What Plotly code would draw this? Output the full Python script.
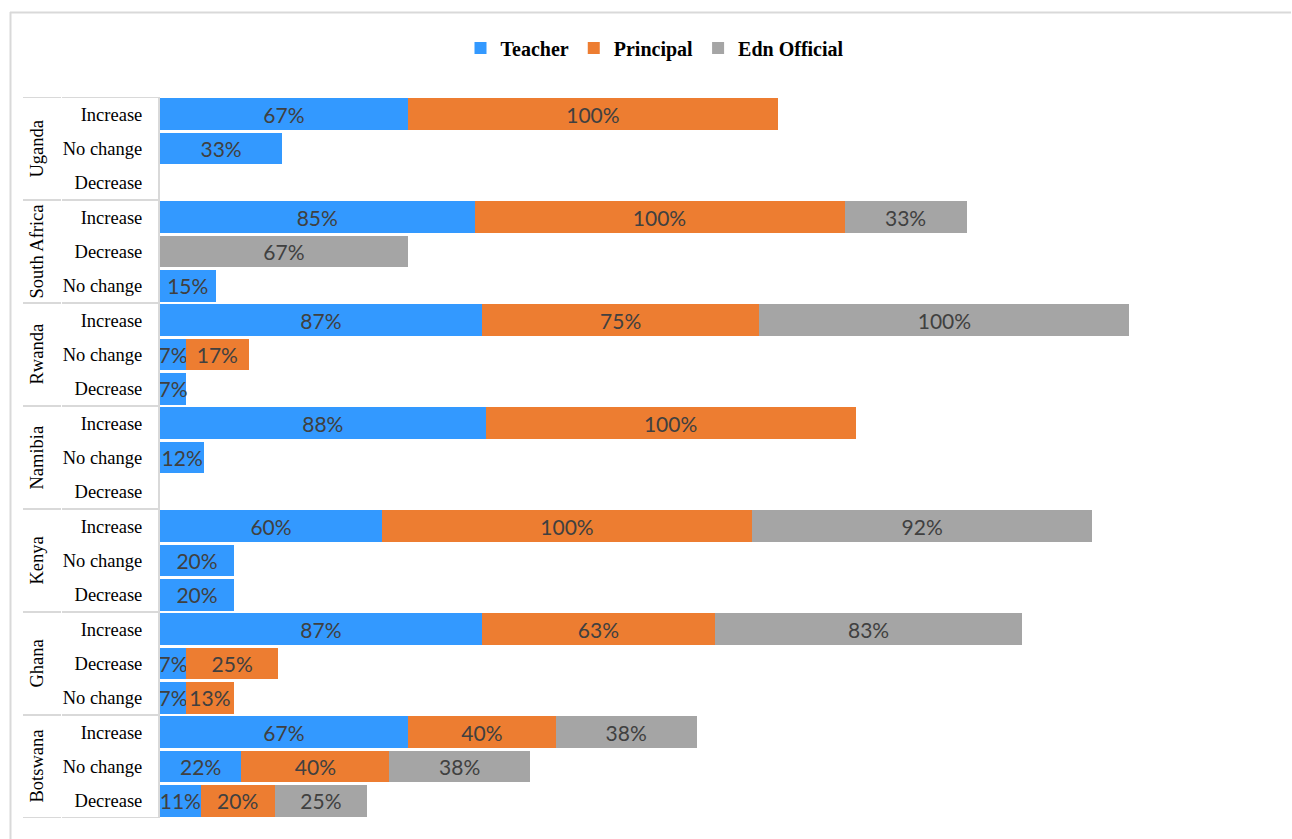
import plotly.graph_objects as go

# Survey responses per country, rows listed top to bottom
countries = ["Uganda", "South Africa", "Rwanda", "Namibia", "Kenya", "Ghana", "Botswana"]
responses = [
    ["Increase", "No change", "Decrease"],
    ["Increase", "Decrease", "No change"],
    ["Increase", "No change", "Decrease"],
    ["Increase", "No change", "Decrease"],
    ["Increase", "No change", "Decrease"],
    ["Increase", "Decrease", "No change"],
    ["Increase", "No change", "Decrease"],
]

# Percentages for each respondent group (None = no response recorded)
teacher = [67, 33, None,
           85, None, 15,
           87, 7, 7,
           88, 12, None,
           60, 20, 20,
           87, 7, 7,
           67, 22, 11]
principal = [100, None, None,
             100, None, None,
             75, 17, None,
             100, None, None,
             100, None, None,
             63, 25, 13,
             40, 40, 20]
edn_official = [None, None, None,
                33, 67, None,
                100, None, None,
                None, None, None,
                92, None, None,
                83, None, None,
                38, 38, 25]

series = [
    ("Teacher", teacher, "#3399FF"),
    ("Principal", principal, "#ED7D31"),
    ("Edn Official", edn_official, "#A5A5A5"),
]

row_labels = [r for group in responses for r in group]
row_pos = list(range(len(row_labels)))

W, H = 1292, 839
ML, MR, MT, MB = 160, 10, 97, 21
PW, PH = W - ML - MR, H - MT - MB
SERIF = "Liberation Serif, Times New Roman, serif"


def px_x(px):
    return (px - ML) / PW


def px_y(py):
    return (H - MB - py) / PH


fig = go.Figure()
for name, vals, color in series:
    fig.add_trace(go.Bar(
        name=name,
        y=row_pos,
        x=vals,
        orientation="h",
        marker=dict(color=color, line=dict(width=0)),
        text=[f"{v}%" if v is not None else "" for v in vals],
        textposition="inside",
        insidetextanchor="middle",
        constraintext="none",
        textangle=0,
        textfont=dict(family="Lato, Open Sans, sans-serif", size=21, color="#404040"),
        hoverinfo="skip",
    ))

shapes = []
line_col = "#D9D9D9"
# group separators in the category column
n_rows = len(row_labels)
bounds = [-0.5]
acc = -0.5
for group in responses:
    acc += len(group)
    bounds.append(acc)
for b in bounds:
    shapes.append(dict(type="line", xref="paper", yref="y",
                       x0=px_x(23), x1=px_x(61), y0=b, y1=b,
                       line=dict(color=line_col, width=2)))
    shapes.append(dict(type="line", xref="paper", yref="y",
                       x0=px_x(62), x1=0, y0=b, y1=b,
                       line=dict(color=line_col, width=2)))
# chart frame (top and left edges)
shapes.append(dict(type="line", xref="paper", yref="paper",
                   x0=px_x(10), x1=px_x(1291), y0=px_y(12.5), y1=px_y(12.5),
                   line=dict(color=line_col, width=2)))
shapes.append(dict(type="line", xref="paper", yref="paper",
                   x0=px_x(10.5), x1=px_x(10.5), y0=px_y(12), y1=px_y(839),
                   line=dict(color=line_col, width=2)))

annotations = []
start = 0
for country, group in zip(countries, responses):
    mid = start + (len(group) - 1) / 2
    annotations.append(dict(
        text=country, xref="paper", yref="y", x=px_x(36), y=mid,
        textangle=-90, showarrow=False, xanchor="center", yanchor="middle",
        font=dict(family=SERIF, size=18.5, color="#000000"),
    ))
    start += len(group)

fig.update_layout(
    width=W, height=H,
    margin=dict(l=ML, r=MR, t=MT, b=MB, pad=0),
    barmode="stack",
    bargap=0.07,
    paper_bgcolor="white",
    plot_bgcolor="white",
    showlegend=True,
    legend=dict(
        orientation="h", x=px_x(655), y=px_y(48), xanchor="center", yanchor="middle",
        font=dict(family=SERIF, size=20, color="#000000", weight="bold"),
        itemsizing="constant", traceorder="normal", itemwidth=30,
        bgcolor="rgba(0,0,0,0)",
    ),
    xaxis=dict(range=[0, PW / 3.70], showgrid=False, zeroline=False,
               showticklabels=False, showline=False, ticks=""),
    yaxis=dict(
        range=[n_rows - 0.5, -0.5],
        tickmode="array", tickvals=row_pos, ticktext=row_labels,
        showgrid=False, zeroline=False,
        showline=True, linecolor=line_col, linewidth=2,
        ticks="", ticklabelstandoff=12,
        tickfont=dict(family=SERIF, size=18.5, color="#000000"),
    ),
    shapes=shapes,
    annotations=annotations,
    font=dict(family=SERIF),
)

fig.write_html("out.html")
